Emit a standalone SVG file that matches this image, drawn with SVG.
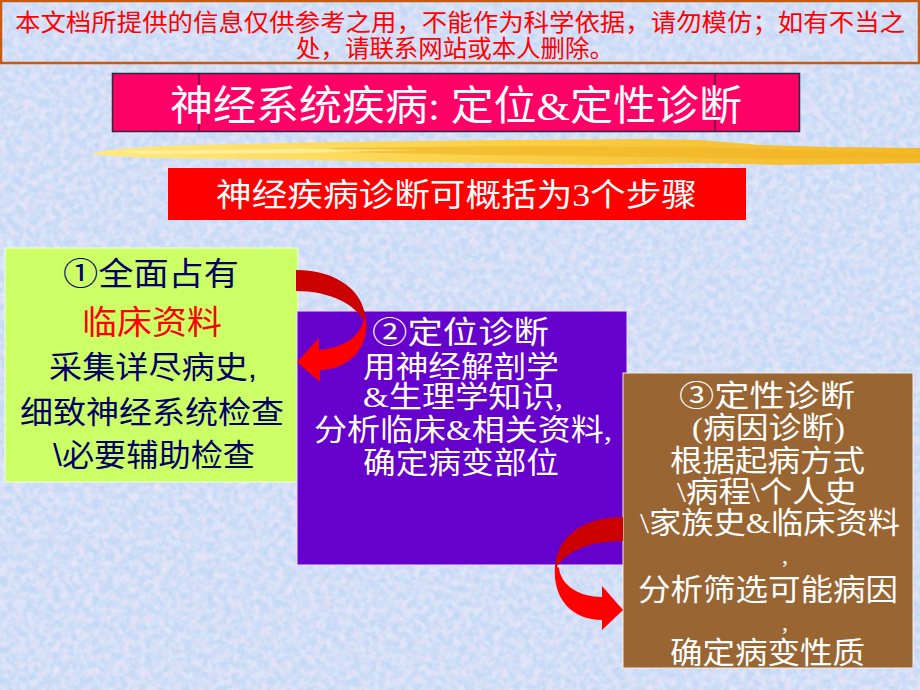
<svg xmlns="http://www.w3.org/2000/svg" width="920" height="690" viewBox="0 0 920 690">
<defs>
<filter id="texPink" x="0" y="0" width="100%" height="100%">
<feTurbulence type="fractalNoise" baseFrequency="0.13" numOctaves="2" seed="7"/>
<feColorMatrix type="matrix" values="0 0 0 0 0.90  0 0 0 0 0.78  0 0 0 0 0.93  1.6 0 0 0 -0.60"/>
</filter>
<filter id="texCyan" x="0" y="0" width="100%" height="100%">
<feTurbulence type="fractalNoise" baseFrequency="0.15" numOctaves="2" seed="21"/>
<feColorMatrix type="matrix" values="0 0 0 0 0.80  0 0 0 0 0.92  0 0 0 0 0.97  1.4 0 0 0 -0.58"/>
</filter>
<linearGradient id="brushG" x1="0" y1="0" x2="1" y2="0">
<stop offset="0" stop-color="#FFEA80"/>
<stop offset="0.45" stop-color="#FBD24A"/>
<stop offset="1" stop-color="#F3B828"/>
</linearGradient>
<style>
.serif{font-family:"Liberation Serif","Noto Sans CJK SC",serif;}
.sans{font-family:"Liberation Sans","Noto Sans CJK SC",sans-serif;}
.w{fill:#FFFFFF;}
</style>
</defs>
<rect width="920" height="690" fill="#C5D9F6"/>
<rect width="920" height="690" filter="url(#texCyan)"/>
<rect width="920" height="690" filter="url(#texPink)"/>

<g id="banner">
<rect x="1" y="1" width="918" height="62" fill="none" stroke="#C85A10" stroke-width="2.5"/>
<text class="serif" x="15" y="31" font-size="24" fill="#FF0000" textLength="890" lengthAdjust="spacingAndGlyphs">本文档所提供的信息仅供参考之用，不能作为科学依据，请勿模仿；如有不当之</text>
<text class="serif" x="296" y="57" font-size="24" fill="#FF0000" textLength="318" lengthAdjust="spacingAndGlyphs">处，请联系网站或本人删除。</text>
</g>

<g id="title">
<rect x="112.5" y="73.5" width="687" height="58" fill="#FF0066" stroke="#2A2A3A" stroke-width="1.5"/>
<line x1="199" y1="74" x2="199" y2="131" stroke="#1A1A2A" stroke-width="1"/>
<line x1="715" y1="74" x2="715" y2="131" stroke="#1A1A2A" stroke-width="1"/>
<text class="serif w" x="170" y="120" font-size="41" textLength="572" lengthAdjust="spacingAndGlyphs">神经系统疾病: 定位&amp;定性诊断</text>
</g>

<g id="brush">
<path d="M92,154 L108,150 L160,146 L240,144 L330,142 L420,141 L520,140 L640,139 L700,140 L760,145 L830,147 L920,148 L920,163 L860,164 L780,165 L700,163 L600,165 L500,163 L400,162 L300,160 L220,159 L160,158 L110,156 Z" fill="url(#brushG)"/>
<path d="M330,148 L520,146 L700,147 L860,152 L920,153 L920,158 L780,159 L640,157 L480,155 L340,152 Z" fill="#F0B224" opacity="0.6"/>
<path d="M120,151 L300,149 L420,150 L300,153 L140,154 Z" fill="#FFF2A8" opacity="0.7"/>
</g>

<g id="subtitle">
<rect x="168" y="168" width="578" height="52" fill="#FF0000"/>
<text class="serif w" x="216" y="206" font-size="32" textLength="481" lengthAdjust="spacingAndGlyphs">神经疾病诊断可概括为3个步骤</text>
</g>

<g id="step1">
<rect x="5" y="248" width="293" height="234" fill="#CCFF66" stroke="#F0FFE0" stroke-width="1"/>
<text class="sans" x="63" y="285" font-size="32" fill="#000066" textLength="176" lengthAdjust="spacingAndGlyphs">①全面占有</text>
<text class="sans" x="82" y="334" font-size="33" fill="#FF0000" textLength="140" lengthAdjust="spacingAndGlyphs">临床资料</text>
<text class="sans" x="49" y="378" font-size="31" fill="#000066" textLength="208" lengthAdjust="spacingAndGlyphs">采集详尽病史,</text>
<text class="sans" x="20" y="423" font-size="31" fill="#000066" textLength="264" lengthAdjust="spacingAndGlyphs">细致神经系统检查</text>
<text class="sans" x="53" y="466" font-size="31" fill="#000066" textLength="202" lengthAdjust="spacingAndGlyphs">\必要辅助检查</text>
</g>

<g id="step2">
<rect x="297" y="311" width="330" height="254" fill="#6600CC" stroke="#E8E0FF" stroke-width="1"/>
<text class="serif w" x="372" y="343" font-size="31" textLength="177" lengthAdjust="spacingAndGlyphs">②定位诊断</text>
<text class="serif w" x="363" y="377" font-size="30" textLength="196" lengthAdjust="spacingAndGlyphs">用神经解剖学</text>
<text class="serif w" x="363" y="407" font-size="30" textLength="200" lengthAdjust="spacingAndGlyphs">&amp;生理学知识,</text>
<text class="serif w" x="314" y="440" font-size="30" textLength="298" lengthAdjust="spacingAndGlyphs">分析临床&amp;相关资料,</text>
<text class="serif w" x="363" y="473" font-size="30" textLength="196" lengthAdjust="spacingAndGlyphs">确定病变部位</text>
</g>

<g id="step3">
<rect x="623" y="373" width="290" height="295" fill="#996633" stroke="#F4ECE0" stroke-width="1"/>
<text class="serif w" x="679" y="406" font-size="30" textLength="176" lengthAdjust="spacingAndGlyphs">③定性诊断</text>
<text class="serif w" x="692" y="438" font-size="30" textLength="153" lengthAdjust="spacingAndGlyphs">(病因诊断)</text>
<text class="serif w" x="670" y="471" font-size="30" textLength="195" lengthAdjust="spacingAndGlyphs">根据起病方式</text>
<text class="serif w" x="677" y="502" font-size="30" textLength="180" lengthAdjust="spacingAndGlyphs">\病程\个人史</text>
<text class="serif w" x="640" y="533" font-size="30" textLength="260" lengthAdjust="spacingAndGlyphs">\家族史&amp;临床资料</text>
<text class="serif w" x="782" y="563" font-size="24">,</text>
<text class="serif w" x="638" y="600" font-size="30" textLength="260" lengthAdjust="spacingAndGlyphs">分析筛选可能病因</text>
<text class="serif w" x="782" y="630" font-size="24">,</text>
<text class="serif w" x="670" y="663" font-size="30" textLength="195" lengthAdjust="spacingAndGlyphs">确定病变性质</text>
</g>

<g id="connectors">
<g id="arrow-1-2">
<path d="M296,270 C338,270 366,292 366,324 C356,304 330,291 296,291 Z" fill="#CC0000"/>
<path d="M366,318 C369,348 350,369 320,370 L320,382 L297,362 L319,338 L319,350 C342,348 359,338 363,322 Z" fill="#FF0000"/>
</g>
<g id="arrow-3-2">
<path d="M623,517 C584,517 556,536 555,569 C566,551 590,541 623,541 Z" fill="#CC0000"/>
<path d="M555,565 C552,601 574,620 602,620 L602,630 L623,610 L602,586 L602,597 C580,597 561,586 559,568 Z" fill="#FF0000"/>
</g>
</g>
</svg>
